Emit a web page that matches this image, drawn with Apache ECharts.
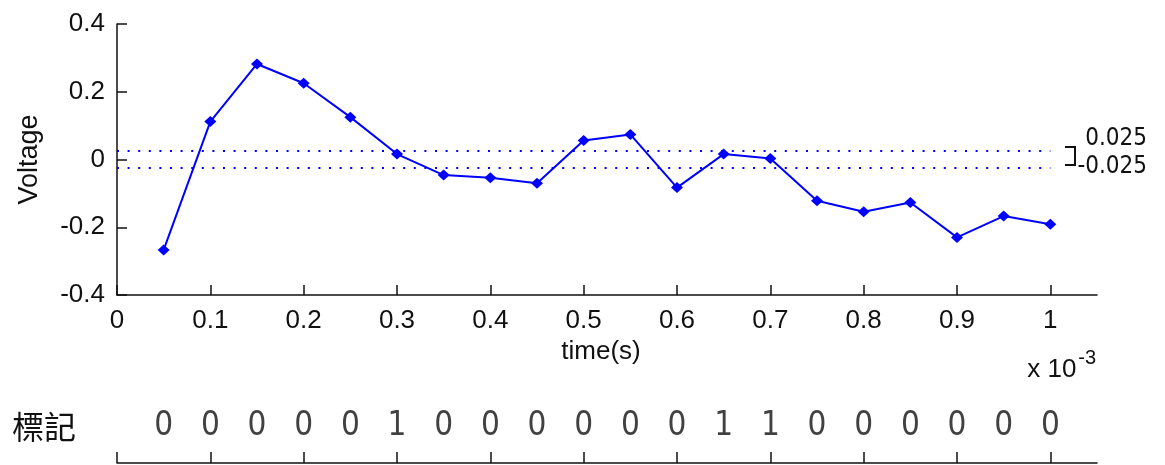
<!DOCTYPE html>
<html>
<head>
<meta charset="utf-8">
<script src="https://cdn.jsdelivr.net/npm/echarts@6/dist/echarts.min.js"></script>
<style>
  html, body { margin: 0; padding: 0; background: #fff; }
  #chart { width: 1165px; height: 465px; }
</style>
</head>
<body>
<div id="chart"></div>
<script>
// ---- data ----
const times = [0.05, 0.10, 0.15, 0.20, 0.25, 0.30, 0.35, 0.40, 0.45, 0.50,
               0.55, 0.60, 0.65, 0.70, 0.75, 0.80, 0.85, 0.90, 0.95, 1.00];
const voltage = [-0.267, 0.112, 0.282, 0.225, 0.125, 0.016, -0.046, -0.054, -0.070, 0.056,
                 0.074, -0.083, 0.016, 0.003, -0.122, -0.154, -0.127, -0.230, -0.167, -0.191];
const marks = [0, 0, 0, 0, 0, 1, 0, 0, 0, 0, 0, 0, 1, 1, 0, 0, 0, 0, 0, 0];
const thresholds = [0.025, -0.025];
const thresholdLabels = ['0.025', '-0.025'];
const xTicks = [0, 0.1, 0.2, 0.3, 0.4, 0.5, 0.6, 0.7, 0.8, 0.9, 1];
const xMin = 0, xMax = 1.05;
const yMin = -0.4, yMax = 0.4, yStep = 0.2;
const xName = 'time(s)';
const yName = 'Voltage';
const rowName = '標記';

// ---- styles ----
const INK = '#111';
const BLUE = '#0000ff';
const LATIN = '"Liberation Sans", Arial, sans-serif';
const NARROW = '"Liberation Sans Narrow", "DejaVu Sans Condensed", Arial, sans-serif';
const axisLineStyle = { color: INK, width: 1.5 };

const chart = echarts.init(document.getElementById('chart'), null, { renderer: 'canvas' });

const option = {
  animation: false,
  backgroundColor: '#fff',
  grid: [
    { left: 117, right: 68, top: 24, bottom: 170, outerBoundsMode: 'none', containLabel: false },
    { left: 117, right: 68, top: 400, bottom: 2, outerBoundsMode: 'none', containLabel: false }
  ],
  xAxis: [
    {
      type: 'value', gridIndex: 0, min: xMin, max: xMax,
      axisLine: { show: true, onZero: false, lineStyle: axisLineStyle },
      axisTick: { show: true, inside: true, length: 10, customValues: xTicks, lineStyle: axisLineStyle },
      axisLabel: { customValues: xTicks, margin: 13, fontSize: 26, color: INK, fontFamily: LATIN },
      splitLine: { show: false },
      name: xName, nameLocation: 'middle', nameGap: 36,
      nameTextStyle: { fontSize: 26, color: INK, fontFamily: LATIN, padding: [0, 12, 0, 0] }
    },
    {
      type: 'value', gridIndex: 1, min: xMin, max: xMax,
      axisLine: { show: true, onZero: false, lineStyle: axisLineStyle },
      axisTick: { show: true, inside: true, length: 11, customValues: xTicks, lineStyle: axisLineStyle },
      axisLabel: { show: false },
      splitLine: { show: false }
    }
  ],
  yAxis: [
    {
      type: 'value', gridIndex: 0, min: yMin, max: yMax, interval: yStep,
      axisLine: { show: true, onZero: false, lineStyle: axisLineStyle },
      axisTick: { show: true, inside: true, length: 10, lineStyle: axisLineStyle },
      axisLabel: { margin: 12, fontSize: 26, color: INK, fontFamily: LATIN },
      splitLine: { show: false },
      name: yName, nameLocation: 'middle', nameGap: 74,
      nameTextStyle: { fontSize: 27, color: INK, fontFamily: LATIN }
    },
    { type: 'value', gridIndex: 1, min: 0, max: 1, show: false }
  ],
  series: [
    {
      type: 'line', xAxisIndex: 0, yAxisIndex: 0,
      data: times.map((t, i) => [t, voltage[i]]),
      symbol: 'diamond', symbolSize: [12, 11],
      itemStyle: { color: BLUE },
      lineStyle: { color: BLUE, width: 2 },
      z: 5
    },
    ...thresholds.map(th => ({
      type: 'line', xAxisIndex: 0, yAxisIndex: 0,
      data: [[xMin, th], [times[times.length - 1], th]],
      symbol: 'none',
      lineStyle: { color: BLUE, width: 2, type: [2, 8.6] },
      z: 3
    })),
    {
      type: 'scatter', xAxisIndex: 1, yAxisIndex: 1,
      data: times.map((t, i) => [t, 0, marks[i]]),
      symbolSize: 1,
      itemStyle: { color: 'rgba(0,0,0,0)' },
      label: {
        show: true, position: 'top', distance: 20,
        formatter: p => String(p.value[2]),
        fontSize: 33, color: INK, fontFamily: NARROW
      }
    }
  ]
};
chart.setOption(option);

// annotations placed relative to the axes
function annotate() {
  const g = [];
  const yPix = thresholds.map(th => chart.convertToPixel({ gridIndex: 0 }, [xMax, th]));
  const rightX = yPix[0][0];
  // bracket
  g.push({
    type: 'polyline',
    shape: { points: [[rightX - 32, yPix[0][1] - 4], [rightX - 22, yPix[0][1] - 4],
                      [rightX - 22, yPix[1][1] - 3], [rightX - 32, yPix[1][1] - 3]] },
    style: { stroke: INK, lineWidth: 2, fill: null }
  });
  g.push({
    type: 'text', x: rightX + 50, y: yPix[0][1] - 12,
    style: { text: thresholdLabels[0], fontSize: 24, fill: INK, fontFamily: NARROW, align: 'right', verticalAlign: 'middle' }
  });
  g.push({
    type: 'text', x: rightX + 50, y: yPix[1][1] - 1,
    style: { text: thresholdLabels[1], fontSize: 24, fill: INK, fontFamily: NARROW, align: 'right', verticalAlign: 'middle' }
  });
  // exponent note
  const p1 = chart.convertToPixel({ gridIndex: 0 }, [1, yMin]);
  g.push({
    type: 'text', x: p1[0] - 23, y: p1[1] + 75,
    style: { text: 'x 10', fontSize: 26, fill: INK, fontFamily: LATIN, align: 'left', verticalAlign: 'middle' }
  });
  g.push({
    type: 'text', x: p1[0] + 28, y: p1[1] + 63,
    style: { text: '-3', fontSize: 20, fill: INK, fontFamily: LATIN, align: 'left', verticalAlign: 'middle' }
  });
  // row label
  g.push({
    type: 'text', x: 12, y: 427,
    style: { text: rowName, fontSize: 32, fill: INK, fontFamily: '"Noto Sans CJK TC", "Noto Sans CJK JP", sans-serif', align: 'left', verticalAlign: 'middle' }
  });
  chart.setOption({ graphic: g });
}
annotate();
</script>
</body>
</html>
